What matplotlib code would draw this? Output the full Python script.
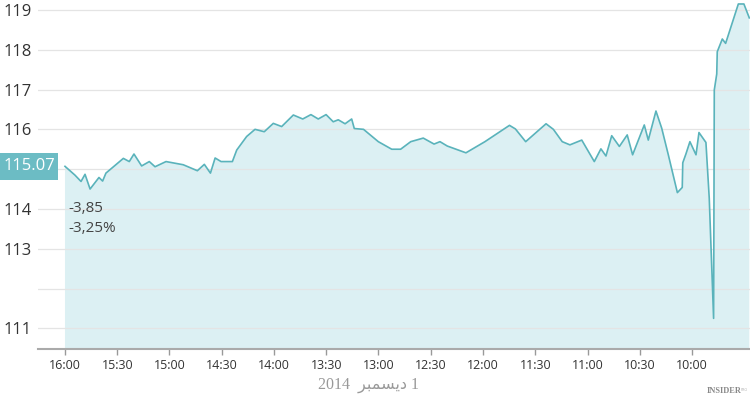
import matplotlib
matplotlib.use('Agg')
import matplotlib.pyplot as plt
import matplotlib.transforms as mtransforms
from matplotlib.patches import Rectangle

# minutes after the 9:30 open, and the price at that moment
minutes = [390, 384.3, 380.8, 378.5, 375.6, 370.5, 368.4, 366.5, 356.5, 353.1,
           350.4, 346.0, 341.6, 338.3, 332.0, 322.1, 314.0, 310.0, 306.5, 303.8,
           300.4, 293.9, 291.4, 285.7, 280.9, 275.6, 270.4, 265.6, 258.9, 253.5,
           248.8, 244.6, 240.1, 236.0, 233.1, 229.2, 225.4, 223.9, 218.6, 210.1,
           202.4, 197.3, 191.5, 184.3, 178.1, 174.7, 170.5, 159.8, 148.9, 134.8,
           131.4, 125.5, 113.8, 109.6, 104.5, 100.1, 93.3, 86.1, 82.3, 79.4,
           76.1, 71.7, 67.2, 64.1, 57.4, 55.1, 50.7, 47.4, 43.6, 38.4,
           35.6, 35.3, 33.5, 31.2, 27.7, 26.0, 22.0, 20.1, 17.6, 17.2,
           15.8, 15.5, 12.6, 10.7, 3.4, 0.2, -2.9]
prices = [115.07, 114.85, 114.69, 114.87, 114.50, 114.79, 114.70, 114.90, 115.27, 115.19,
          115.38, 115.08, 115.19, 115.06, 115.19, 115.11, 114.96, 115.12, 114.90, 115.28,
          115.19, 115.19, 115.48, 115.82, 116.00, 115.94, 116.15, 116.07, 116.36, 116.26,
          116.37, 116.26, 116.37, 116.19, 116.24, 116.14, 116.26, 116.02, 116.00, 115.69,
          115.50, 115.50, 115.69, 115.78, 115.63, 115.69, 115.58, 115.41, 115.69, 116.10,
          116.01, 115.69, 116.14, 116.00, 115.69, 115.61, 115.73, 115.19, 115.51, 115.33,
          115.84, 115.57, 115.86, 115.36, 116.11, 115.73, 116.46, 116.03, 115.36, 114.41,
          114.54, 115.16, 115.38, 115.69, 115.36, 115.92, 115.67, 114.27, 111.25, 116.99,
          117.39, 117.95, 118.27, 118.16, 119.15, 119.15, 118.80]

tick_labels = ['16:00', '15:30', '15:00', '14:30', '14:00', '13:30', '13:00',
               '12:30', '12:00', '11:30', '11:00', '10:30', '10:00']
tick_minutes = [390, 360, 330, 300, 270, 240, 210, 180, 150, 120, 90, 60, 30]
y_ticks = [111, 112, 113, 114, 115, 116, 117, 118, 119]
y_labels = ['111', '', '113', '114', '', '116', '117', '118', '119']

last_price = '115.07'
change = '-3,85'
change_pct = '-3,25%'
# "1 ديسمبر 2014" written in visual order with presentation forms
date_label = '2014  \uFEAE\uFE92\uFEE4\uFEB4\uFEF3\uFEA9 1'

line_color = '#5ab3bb'
fill_color = '#dcf0f3'

plt.rcParams['font.family'] = ['Open Sans', 'DejaVu Sans']

fig = plt.figure(figsize=(7.5, 3.96), dpi=100)
ax = fig.add_axes([38 / 750, 47 / 396, 712 / 750, 349 / 396])

ax.fill_between(minutes, prices, 100, color=fill_color, lw=0, zorder=1)
ax.plot(minutes, prices, color=line_color, lw=1.2, zorder=3)

ax.set_xlim(405.5, -3.3)
ax.set_ylim(110.48, 119.25)

ax.set_yticks(y_ticks)
ax.set_yticklabels(y_labels)
ax.grid(axis='y', color='#e4e4e4', lw=0.9, zorder=2)
ax.tick_params(axis='y', length=0, pad=25, labelsize=12, labelcolor='#333333')
for lab in ax.get_yticklabels():
    lab.set_horizontalalignment('left')

ax.set_xticks(tick_minutes)
ax.set_xticklabels(tick_labels)
ax.tick_params(axis='x', length=4, width=1, color='#999999', pad=3,
               labelsize=9, labelcolor='#333333')

for side in ['top', 'right', 'left']:
    ax.spines[side].set_visible(False)
ax.spines['bottom'].set_color('#aaaaaa')
ax.spines['bottom'].set_linewidth(1.5)

# last price badge on the y axis
trans = mtransforms.blended_transform_factory(fig.transFigure, ax.transData)
ax.add_patch(Rectangle((0, 114.735), 58 / 750, 0.67, transform=trans,
                       facecolor='#6cbcc4', edgecolor='none', clip_on=False, zorder=5))
ax.text(29 / 750, 115.07, last_price, transform=trans, ha='center', va='center',
        color='white', fontsize=12, zorder=6)

ax.text(68 / 750, 114.0, change, transform=trans, ha='left', va='center',
        color='#444444', fontsize=11)
ax.text(68 / 750, 113.5, change_pct, transform=trans, ha='left', va='center',
        color='#444444', fontsize=11)

fig.text(368 / 750, 1 - 385 / 396, date_label, ha='center', va='center',
         color='#999999', fontsize=11.5, family=['Liberation Serif', 'DejaVu Sans'])
fig.text(742 / 750, 1 - 391 / 396, 'INSIDER', ha='right', va='center',
         color='#888888', fontsize=6, fontweight='bold', family='Liberation Serif')
fig.text(748 / 750, 1 - 390 / 396, 'PRO', ha='right', va='center',
         color='#aaaaaa', fontsize=2.5)

fig.savefig('out.png', dpi=100)
